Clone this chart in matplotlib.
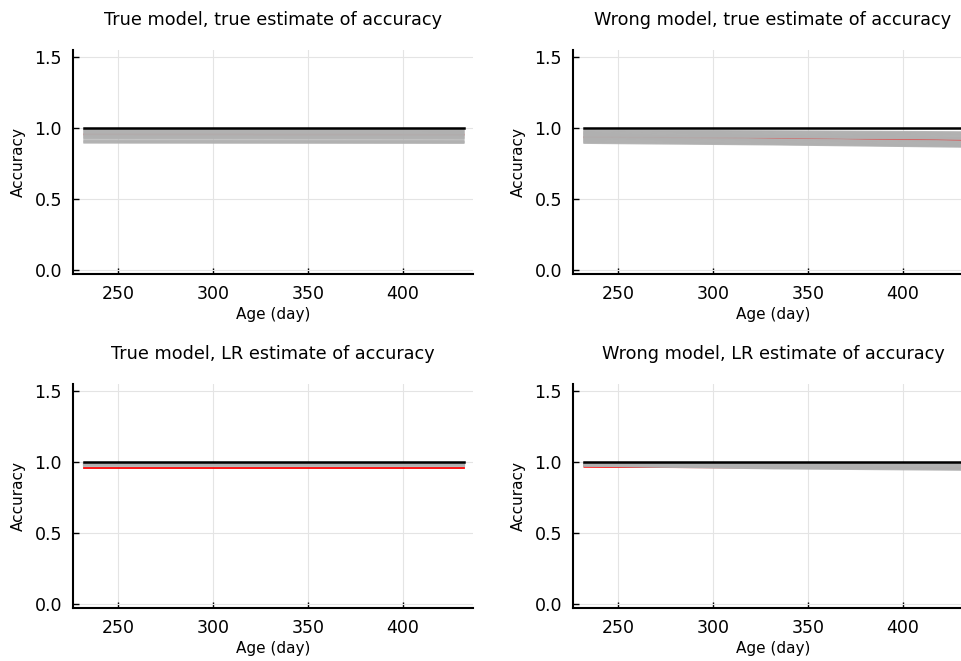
import matplotlib
matplotlib.use("Agg")
from matplotlib import pyplot as plt

# ages at which each simulated accuracy curve is given
age = [232, 332, 432]

titles = ["True model, true estimate of accuracy",
          "Wrong model, true estimate of accuracy",
          "True model, LR estimate of accuracy",
          "Wrong model, LR estimate of accuracy"]

# reference accuracy (perfect)
ref_acc = [1.0, 1.0, 1.0]

# gray: simulated curves, red: mean estimate
gray_tt = [[0.989, 0.988, 0.988], [0.982, 0.981, 0.980], [0.975, 0.974, 0.973],
           [0.968, 0.967, 0.966], [0.961, 0.960, 0.959], [0.954, 0.953, 0.952],
           [0.947, 0.946, 0.945], [0.940, 0.939, 0.938], [0.933, 0.932, 0.931],
           [0.926, 0.925, 0.924], [0.912, 0.911, 0.910], [0.904, 0.903, 0.902],
           [0.897, 0.896, 0.895]]
red_tt = [0.955, 0.954, 0.953]

gray_wt = [[0.982, 0.977, 0.970], [0.976, 0.970, 0.962], [0.970, 0.962, 0.955],
           [0.964, 0.955, 0.948], [0.958, 0.948, 0.940], [0.952, 0.942, 0.933],
           [0.946, 0.938, 0.927], [0.940, 0.934, 0.923], [0.934, 0.920, 0.906],
           [0.928, 0.914, 0.900], [0.922, 0.908, 0.893], [0.916, 0.901, 0.886],
           [0.909, 0.894, 0.879], [0.902, 0.888, 0.873], [0.895, 0.884, 0.868]]
red_wt = [0.935, 0.929, 0.914]

gray_tl = [[0.991, 0.991, 0.991], [0.987, 0.987, 0.987], [0.983, 0.983, 0.983],
           [0.979, 0.979, 0.979], [0.975, 0.975, 0.975]]
red_tl = [0.959, 0.959, 0.959]

gray_wl = [[0.993, 0.990, 0.987], [0.989, 0.985, 0.981], [0.985, 0.979, 0.974],
           [0.981, 0.973, 0.967], [0.978, 0.968, 0.961], [0.976, 0.963, 0.955],
           [0.975, 0.959, 0.950], [0.974, 0.955, 0.945]]
red_wl = [0.966, 0.961, 0.956]

grays = [gray_tt, gray_wt, gray_tl, gray_wl]
reds = [red_tt, red_wt, red_tl, red_wl]

xticks = [250, 300, 350, 400]
yticks = [0.0, 0.5, 1.0, 1.5]

W, H = 962, 661
fig = plt.figure(figsize=(W / 100, H / 100), dpi=100)

# axes boxes in pixels: left, top (right column runs past the edge)
boxes = [(73, 50), (573, 50), (73, 384), (573, 384)]
for k in range(4):
    x0, y0 = boxes[k]
    ax = fig.add_axes([x0 / W, 1 - (y0 + 224) / H, 400 / W, 224 / H])
    ax.plot(age, reds[k], color="red", lw=1.3, zorder=2)
    for g in grays[k]:
        ax.plot(age, g, color="#b0b0b0", lw=1.5, alpha=0.9, zorder=3)
    ax.plot(age, ref_acc, color="black", lw=1.8, zorder=4)

    ax.set_xlim(226, 437)
    ax.set_ylim(-0.028, 1.549)
    ax.set_xticks(xticks)
    ax.set_yticks(yticks)
    ax.set_yticklabels(["%.1f" % v for v in yticks])
    ax.grid(True, color="#e4e4e4", lw=0.8)
    ax.set_axisbelow(True)
    for s in ["top", "right"]:
        ax.spines[s].set_visible(False)
    for s in ["left", "bottom"]:
        ax.spines[s].set_linewidth(1.5)
    ax.tick_params(direction="in", length=4, width=1, labelsize=12.5, pad=8)
    ax.set_title(titles[k], fontsize=12.7, pad=18)
    ax.set_xlabel("Age (day)", fontsize=11, labelpad=3)
    ax.set_ylabel("Accuracy", fontsize=11, labelpad=6)

fig.savefig("out.png", dpi=100)
